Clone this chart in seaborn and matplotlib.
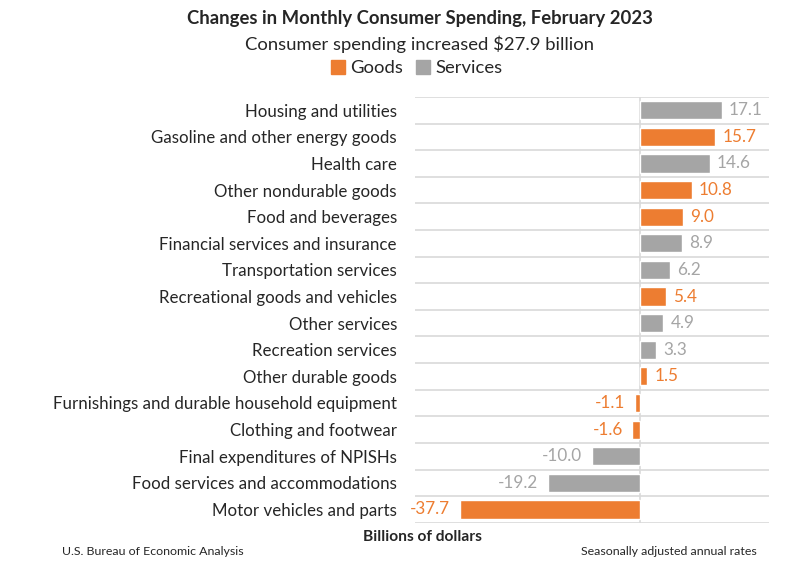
import matplotlib
matplotlib.use("Agg")
import matplotlib.pyplot as plt
import seaborn as sns
import pandas as pd
from matplotlib.patches import Patch

categories = [
    "Housing and utilities",
    "Gasoline and other energy goods",
    "Health care",
    "Other nondurable goods",
    "Food and beverages",
    "Financial services and insurance",
    "Transportation services",
    "Recreational goods and vehicles",
    "Other services",
    "Recreation services",
    "Other durable goods",
    "Furnishings and durable household equipment",
    "Clothing and footwear",
    "Final expenditures of NPISHs",
    "Food services and accommodations",
    "Motor vehicles and parts",
]
values = [17.1, 15.7, 14.6, 10.8, 9.0, 8.9, 6.2, 5.4, 4.9, 3.3, 1.5, -1.1, -1.6, -10.0, -19.2, -37.7]
kinds = ["Services", "Goods", "Services", "Goods", "Goods", "Services", "Services", "Goods",
         "Services", "Services", "Goods", "Goods", "Goods", "Services", "Services", "Goods"]

df = pd.DataFrame({"category": categories, "value": values, "kind": kinds})

ORANGE = "#ED7D31"
GRAY = "#A5A5A5"
palette = {"Goods": ORANGE, "Services": GRAY}
text_colors = {"Goods": ORANGE, "Services": "#A5A5A5"}

sns.set_style("white")
plt.rcParams["font.family"] = ["Lato", "DejaVu Sans"]

fig = plt.figure(figsize=(7.92, 5.77), dpi=100)
ax = fig.add_axes([0.524, 0.094, 0.447, 0.738])

sns.barplot(data=df, y="category", x="value", hue="kind", palette=palette,
            dodge=False, width=0.68, orient="h", legend=False, saturation=1, ax=ax)

ax.set_xlim(-47, 27)
ax.set_ylim(len(categories) - 0.5, -0.5)
for i in range(len(categories) + 1):
    ax.axhline(i - 0.5, color="#D9D9D9", lw=1.2, zorder=0)
ax.axvline(0, color="#D9D9D9", lw=1.2, zorder=0)

# value labels next to each bar
for i, (v, k) in enumerate(zip(values, kinds)):
    if v >= 0:
        ax.text(v + 1.5, i, f"{v:.1f}", va="center", ha="left", fontsize=12.3,
                color=text_colors[k])
    else:
        ax.text(v - 2.0, i, f"{v:.1f}", va="center", ha="right", fontsize=12.3,
                color=text_colors[k])

ax.set_xticks([])
ax.set_xlabel("")
ax.set_ylabel("")
ax.tick_params(axis="y", length=0, pad=13, labelsize=12.2)
for s in ax.spines.values():
    s.set_visible(False)

fig.text(0.53, 0.968, "Changes in Monthly Consumer Spending, February 2023",
         ha="center", va="center", fontsize=13.3, fontweight="bold")
fig.text(0.53, 0.923, "Consumer spending increased $27.9 billion",
         ha="center", va="center", fontsize=13.3)
fig.legend(handles=[Patch(color=ORANGE, label="Goods"), Patch(color=GRAY, label="Services")],
           loc="center", bbox_to_anchor=(0.526, 0.882), ncol=2, frameon=False,
           fontsize=13.3, handlelength=0.75, handleheight=0.75, handletextpad=0.3,
           columnspacing=0.7, borderpad=0)
fig.text(0.533, 0.069, "Billions of dollars", ha="center", va="center",
         fontsize=11.2, fontweight="bold")
fig.text(0.078, 0.045, "U.S. Bureau of Economic Analysis", ha="left", va="center", fontsize=8.9)
fig.text(0.955, 0.045, "Seasonally adjusted annual rates", ha="right", va="center", fontsize=8.9)

fig.savefig("out.png", dpi=100)
